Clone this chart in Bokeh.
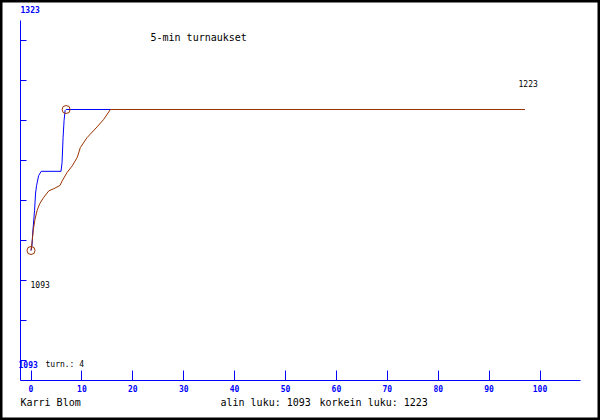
from bokeh.plotting import figure
from bokeh.models import Range1d, Label, FixedTicker, LinearAxis
from bokeh.embed import file_html
from bokeh.resources import INLINE

# ---- data ----
games_blue = [0, 0.2, 0.35, 0.7, 0.9, 1.1, 1.5, 2.0, 5.9, 6.1, 6.3, 6.5, 6.7, 6.9, 97]
rating_blue = [1093, 1098, 1110, 1130, 1146, 1153, 1162, 1166, 1166, 1174, 1197, 1213, 1222, 1223, 1223]

games_brown = [0, 0.24, 0.43, 0.75, 1.2, 1.7, 2.5, 3.5, 4.5, 5.7, 6.1, 7.1, 8.1, 9.1, 9.7,
               11.0, 13.0, 14.3, 15.6, 97]
rating_brown = [1093, 1102, 1111, 1121, 1130, 1136, 1142, 1148, 1150, 1153, 1157, 1165, 1171,
                1179, 1188, 1197, 1207, 1214, 1223, 1223]

extreme_games = [0, 6.9]
extreme_ratings = [1093, 1223]

x_ticks = [0, 10, 20, 30, 40, 50, 60, 70, 80, 90, 100]
min_rating = 1093
max_rating = 1223
tournaments = 4
title_text = "5-min turnaukset"
player = "Karri Blom"

# ---- layout (reference pixel geometry) ----
X0_PX = 30.5      # pixel of game 0
PX_PER_GAME = 5.09
Y0_PX = 250.0     # pixel of min rating
PX_PER_PT = 1.0846
W, H = 600, 420

def gx(px):
    return (px - X0_PX) / PX_PER_GAME

def ry(py):
    return min_rating + (Y0_PX - py) / PX_PER_PT

BLUE = "#0000ff"
BROWN = "#993300"
MONO = "DejaVu Sans Mono"

p = figure(width=W, height=H, output_backend="svg",
           toolbar_location=None,
           x_range=Range1d(gx(0), gx(W)),
           y_range=Range1d(ry(H), ry(0)),
           min_border=0, x_axis_location=None, y_axis_location=None)
p.grid.visible = False
p.outline_line_color = "black"
p.outline_line_width = 4
p.background_fill_color = "white"
p.border_fill_color = "white"

xaxis = LinearAxis(ticker=FixedTicker(ticks=x_ticks), fixed_location=ry(380),
                   bounds=(gx(20), gx(580)))
xaxis.axis_line_color = BLUE
xaxis.major_tick_line_color = BLUE
xaxis.major_tick_in = 10
xaxis.major_tick_out = 0
xaxis.minor_tick_line_color = None
xaxis.major_label_text_color = BLUE
xaxis.major_label_text_font = MONO
xaxis.major_label_text_font_size = "8px"
xaxis.major_label_text_font_style = "bold"
xaxis.major_label_standoff = 4
p.add_layout(xaxis, "below")

yaxis = LinearAxis(ticker=FixedTicker(ticks=[ry(v) for v in range(40, 361, 40)]),
                   fixed_location=gx(20), bounds=(ry(380), ry(20)))
yaxis.axis_line_color = BLUE
yaxis.major_tick_line_color = BLUE
yaxis.major_tick_in = 6
yaxis.major_tick_out = 0
yaxis.minor_tick_line_color = None
yaxis.major_label_text_font_size = "0px"
yaxis.major_label_text_color = None
p.add_layout(yaxis, "left")

p.line(games_blue, rating_blue, line_color=BLUE, line_width=1)
p.line(games_brown, rating_brown, line_color=BROWN, line_width=1)
p.scatter(extreme_games, extreme_ratings, marker="circle", size=8, fill_color=None,
          line_color=BROWN, line_width=1)

def lab(text, px, py, size, color="black", bold=False):
    p.add_layout(Label(x=gx(px), y=ry(py), text=text, text_font=MONO, text_font_size=size,
                       text_color=color, text_align="left", text_baseline="middle",
                       text_font_style="bold" if bold else "normal"))

def dlab(text, x, y, size):
    p.add_layout(Label(x=x, y=y, text=text, text_font=MONO, text_font_size=size,
                       text_color="black", text_align="left", text_baseline="middle"))

lab(str(max_rating + 100), 20, 9, "8px", BLUE, True)
lab(str(min_rating), 18, 364, "8px", BLUE, True)
lab(title_text, 150, 37, "10px")
dlab(str(max_rating), gx(518), max_rating + 24, "8px")
dlab(str(min_rating), gx(30), min_rating - 31, "8px")
lab(f"turn.: {tournaments}", 45, 364, "8px")
lab(player, 20, 402, "10px")
lab(f"alin luku: {min_rating}", 220, 402, "10px")
lab(f"korkein luku: {max_rating}", 319, 402, "10px")

open("out.html", "w").write(file_html(p, INLINE))
